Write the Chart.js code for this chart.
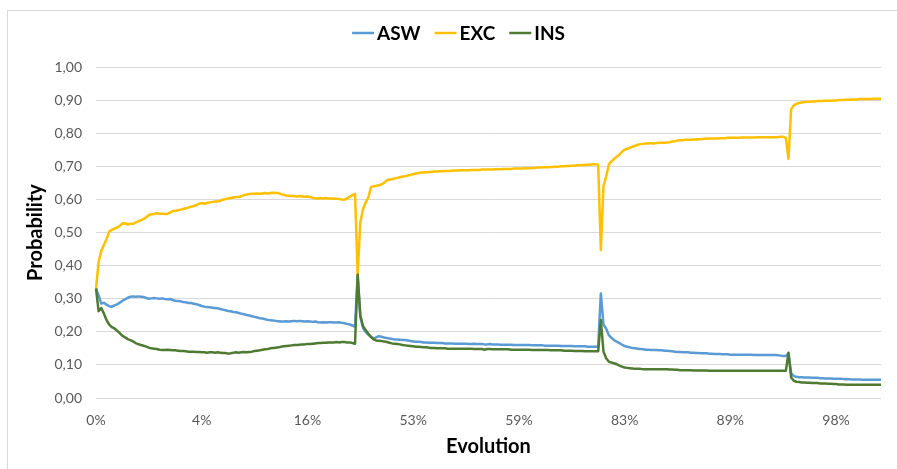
<!DOCTYPE html>
<html>
<head>
<meta charset="utf-8">
<script src="https://cdn.jsdelivr.net/npm/chart.js@4.4.1/dist/chart.umd.min.js"></script>
<style>
  html, body { margin: 0; padding: 0; background: #fff; overflow: hidden; }
  #wrap { position: relative; width: 897px; height: 469px; }
  #frame { position: absolute; left: 7px; top: 10px; width: 900px; height: 470px; border: 1px solid #d9d9d9; box-sizing: border-box; }
  canvas { position: absolute; left: 0; top: 0; }
</style>
</head>
<body>
<div id="wrap"><div id="frame"></div><canvas id="c" width="897" height="469"></canvas></div>
<script>
// Tick labels shown on the category axis (one every 40 categories)
const tickLabels = ['0%', '4%', '16%', '53%', '59%', '83%', '89%', '98%'];
const tickEvery = 40;
const seriesNames = ['ASW', 'EXC', 'INS'];

const ASW = [
  0.331,0.310,0.285,0.288,0.282,0.277,0.276,0.280,0.283,0.288,
  0.294,0.298,0.303,0.306,0.307,0.306,0.307,0.306,0.305,0.302,
  0.300,0.301,0.302,0.301,0.300,0.301,0.299,0.298,0.299,0.296,
  0.294,0.293,0.292,0.290,0.289,0.287,0.287,0.285,0.283,0.281,
  0.278,0.276,0.275,0.274,0.273,0.272,0.271,0.269,0.267,0.265,
  0.263,0.262,0.260,0.259,0.257,0.255,0.253,0.251,0.249,0.247,
  0.245,0.243,0.241,0.240,0.238,0.236,0.235,0.234,0.233,0.232,
  0.231,0.231,0.232,0.231,0.232,0.233,0.232,0.233,0.232,0.231,
  0.232,0.231,0.230,0.231,0.229,0.228,0.229,0.228,0.229,0.229,
  0.228,0.228,0.229,0.227,0.226,0.224,0.222,0.219,0.216,0.370,
  0.245,0.212,0.200,0.191,0.185,0.180,0.183,0.187,0.185,0.183,
  0.181,0.180,0.178,0.177,0.177,0.176,0.175,0.175,0.174,0.172,
  0.171,0.170,0.170,0.169,0.168,0.168,0.167,0.167,0.167,0.166,
  0.166,0.166,0.165,0.165,0.165,0.165,0.164,0.164,0.164,0.164,
  0.164,0.163,0.163,0.164,0.163,0.163,0.163,0.162,0.162,0.163,
  0.162,0.162,0.162,0.161,0.161,0.161,0.161,0.161,0.160,0.160,
  0.160,0.160,0.160,0.160,0.160,0.159,0.159,0.159,0.159,0.159,
  0.158,0.158,0.158,0.158,0.158,0.158,0.157,0.157,0.157,0.157,
  0.157,0.156,0.156,0.156,0.156,0.156,0.155,0.155,0.155,0.155,
  0.155,0.316,0.222,0.210,0.190,0.182,0.175,0.170,0.166,0.161,
  0.157,0.155,0.153,0.151,0.150,0.149,0.148,0.147,0.146,0.146,
  0.145,0.145,0.145,0.144,0.144,0.143,0.143,0.142,0.141,0.140,
  0.139,0.139,0.138,0.138,0.138,0.137,0.137,0.136,0.136,0.135,
  0.135,0.135,0.134,0.134,0.133,0.133,0.133,0.132,0.132,0.132,
  0.131,0.131,0.131,0.131,0.131,0.131,0.131,0.131,0.131,0.130,
  0.130,0.130,0.130,0.130,0.130,0.130,0.130,0.130,0.129,0.128,
  0.127,0.127,0.135,0.075,0.066,0.064,0.063,0.063,0.062,0.062,
  0.062,0.061,0.061,0.061,0.060,0.060,0.059,0.059,0.059,0.058,
  0.058,0.058,0.058,0.057,0.057,0.057,0.056,0.056,0.056,0.056,
  0.055,0.055,0.055,0.055,0.055,0.055,0.055,0.055
];

const EXC = [
  0.331,0.410,0.445,0.462,0.480,0.503,0.508,0.512,0.515,0.520,
  0.527,0.528,0.524,0.527,0.526,0.530,0.534,0.537,0.541,0.546,
  0.553,0.555,0.556,0.558,0.557,0.557,0.556,0.556,0.560,0.565,
  0.565,0.567,0.569,0.571,0.573,0.576,0.578,0.580,0.583,0.587,
  0.589,0.587,0.589,0.591,0.592,0.594,0.594,0.596,0.599,0.601,
  0.603,0.604,0.606,0.607,0.607,0.610,0.613,0.615,0.616,0.617,
  0.617,0.618,0.617,0.618,0.619,0.618,0.619,0.620,0.619,0.619,
  0.616,0.614,0.612,0.611,0.610,0.610,0.609,0.610,0.609,0.608,
  0.609,0.607,0.605,0.603,0.603,0.604,0.603,0.604,0.603,0.603,
  0.602,0.602,0.601,0.600,0.599,0.603,0.608,0.613,0.617,0.372,
  0.530,0.570,0.590,0.605,0.636,0.640,0.641,0.643,0.645,0.650,
  0.657,0.660,0.661,0.663,0.665,0.667,0.669,0.670,0.672,0.674,
  0.676,0.678,0.680,0.681,0.681,0.682,0.683,0.683,0.684,0.684,
  0.685,0.685,0.686,0.686,0.686,0.687,0.687,0.687,0.688,0.688,
  0.688,0.688,0.689,0.689,0.689,0.689,0.690,0.690,0.690,0.690,
  0.690,0.691,0.691,0.691,0.692,0.692,0.692,0.692,0.693,0.693,
  0.693,0.693,0.694,0.694,0.694,0.695,0.695,0.696,0.696,0.697,
  0.697,0.697,0.698,0.698,0.699,0.699,0.700,0.700,0.701,0.701,
  0.702,0.702,0.703,0.703,0.704,0.704,0.705,0.705,0.706,0.706,
  0.705,0.447,0.640,0.668,0.705,0.715,0.722,0.729,0.735,0.744,
  0.750,0.753,0.756,0.759,0.762,0.765,0.767,0.768,0.769,0.769,
  0.770,0.769,0.770,0.771,0.771,0.771,0.772,0.773,0.775,0.776,
  0.778,0.779,0.779,0.780,0.780,0.780,0.781,0.781,0.782,0.782,
  0.783,0.783,0.784,0.784,0.784,0.784,0.785,0.785,0.785,0.786,
  0.786,0.786,0.786,0.786,0.787,0.787,0.787,0.787,0.787,0.787,
  0.788,0.788,0.788,0.788,0.788,0.788,0.788,0.788,0.788,0.789,
  0.789,0.786,0.722,0.872,0.884,0.889,0.891,0.893,0.894,0.895,
  0.895,0.896,0.896,0.897,0.897,0.897,0.898,0.898,0.898,0.899,
  0.899,0.900,0.900,0.900,0.901,0.901,0.902,0.902,0.902,0.903,
  0.903,0.903,0.903,0.903,0.904,0.904,0.904,0.904
];

const INS = [
  0.331,0.262,0.272,0.255,0.235,0.222,0.214,0.210,0.203,0.196,
  0.188,0.183,0.178,0.175,0.171,0.166,0.163,0.160,0.158,0.155,
  0.152,0.150,0.149,0.148,0.146,0.145,0.145,0.146,0.145,0.144,
  0.144,0.143,0.142,0.142,0.141,0.140,0.140,0.140,0.139,0.139,
  0.138,0.138,0.137,0.138,0.138,0.137,0.138,0.137,0.136,0.136,
  0.134,0.135,0.137,0.138,0.137,0.138,0.139,0.138,0.139,0.140,
  0.142,0.143,0.144,0.146,0.147,0.148,0.150,0.151,0.152,0.153,
  0.155,0.156,0.157,0.158,0.159,0.160,0.160,0.161,0.162,0.162,
  0.163,0.163,0.164,0.165,0.166,0.166,0.167,0.167,0.168,0.168,
  0.168,0.169,0.168,0.169,0.169,0.168,0.168,0.166,0.164,0.372,
  0.250,0.218,0.205,0.195,0.185,0.177,0.174,0.173,0.172,0.171,
  0.169,0.167,0.165,0.164,0.163,0.162,0.160,0.159,0.158,0.157,
  0.156,0.155,0.155,0.154,0.153,0.153,0.152,0.151,0.151,0.150,
  0.150,0.150,0.150,0.149,0.149,0.149,0.149,0.149,0.149,0.149,
  0.149,0.149,0.149,0.148,0.148,0.148,0.148,0.146,0.148,0.148,
  0.147,0.147,0.147,0.147,0.147,0.147,0.147,0.146,0.146,0.146,
  0.146,0.146,0.146,0.146,0.146,0.145,0.145,0.145,0.145,0.145,
  0.145,0.145,0.144,0.144,0.144,0.144,0.144,0.143,0.143,0.143,
  0.143,0.142,0.142,0.142,0.142,0.141,0.141,0.141,0.141,0.141,
  0.141,0.236,0.140,0.120,0.110,0.107,0.105,0.102,0.098,0.095,
  0.092,0.091,0.090,0.089,0.088,0.088,0.088,0.087,0.087,0.087,
  0.087,0.087,0.087,0.087,0.087,0.087,0.087,0.086,0.086,0.085,
  0.085,0.084,0.084,0.084,0.084,0.084,0.083,0.083,0.083,0.083,
  0.083,0.083,0.082,0.082,0.082,0.082,0.082,0.082,0.082,0.082,
  0.082,0.082,0.082,0.082,0.082,0.082,0.082,0.082,0.082,0.082,
  0.082,0.082,0.082,0.082,0.082,0.082,0.082,0.082,0.082,0.082,
  0.082,0.082,0.137,0.062,0.052,0.049,0.048,0.047,0.047,0.046,
  0.046,0.045,0.045,0.045,0.044,0.044,0.044,0.043,0.043,0.042,
  0.042,0.041,0.041,0.041,0.040,0.040,0.040,0.040,0.040,0.040,
  0.040,0.040,0.040,0.040,0.040,0.040,0.040,0.040
];

const categories = ASW.map((_, i) => (i % tickEvery === 0 ? tickLabels[i / tickEvery] : ''));

const FONT = 'Lato, "Open Sans", sans-serif';

const xlLegend = {
  id: 'xlLegend',
  afterDraw(chart) {
    const ctx = chart.ctx;
    ctx.save();
    ctx.font = 'bold 19px ' + FONT;
    const items = chart.data.datasets.map(d => ({ t: d.label, c: d.borderColor, w: ctx.measureText(d.label).width }));
    const lineW = 22, gap = 3, sep = 14;
    const total = items.reduce((s, it) => s + lineW + gap + it.w, 0) + sep * (items.length - 1);
    let x = 458.5 - total / 2;
    const y = 33;
    items.forEach(it => {
      ctx.strokeStyle = it.c;
      ctx.lineWidth = 2.5;
      ctx.beginPath();
      ctx.moveTo(x, y);
      ctx.lineTo(x + lineW, y);
      ctx.stroke();
      x += lineW + gap;
      ctx.fillStyle = '#000';
      ctx.textBaseline = 'middle';
      ctx.textAlign = 'left';
      ctx.fillText(it.t, x, y + 1);
      x += it.w + sep;
    });
    ctx.restore();
  }
};

new Chart(document.getElementById('c'), {
  type: 'line',
  data: {
    labels: categories,
    datasets: [
      { label: seriesNames[0], data: ASW, borderColor: '#5B9BD5', order: 1 },
      { label: seriesNames[1], data: EXC, borderColor: '#FFC000', order: 2 },
      { label: seriesNames[2], data: INS, borderColor: '#4F7A32', order: 0 }
    ]
  },
  options: {
    responsive: false,
    animation: false,
    events: [],
    layout: { padding: { top: 67, right: 16, left: 0, bottom: 0 } },
    elements: {
      line: { borderWidth: 2.5, tension: 0, fill: false, borderJoinStyle: 'round' },
      point: { radius: 0 }
    },
    plugins: {
      legend: { display: false },
      tooltip: { enabled: false }
    },
    scales: {
      x: {
        type: 'category',
        offset: false,
        grid: { display: false, drawTicks: false },
        border: { display: false },
        ticks: {
          autoSkip: false,
          maxRotation: 0,
          padding: 14,
          color: '#595959',
          font: { family: FONT, size: 14 },
          callback: (v, i) => (i % tickEvery === 0 ? tickLabels[i / tickEvery] : null)
        },
        title: {
          display: true,
          text: 'Evolution',
          color: '#000',
          font: { family: FONT, size: 20, weight: 'bold' },
          padding: { top: 0, bottom: 10 }
        },
        afterFit: s => { s.height = 71; }
      },
      y: {
        min: 0,
        max: 1,
        grid: { color: '#d9d9d9', lineWidth: 1, drawTicks: false },
        border: { display: false },
        ticks: {
          stepSize: 0.1,
          padding: 14,
          color: '#595959',
          font: { family: FONT, size: 14 },
          callback: v => v.toFixed(2).replace('.', ',')
        },
        title: {
          display: true,
          text: 'Probability',
          color: '#000',
          font: { family: FONT, size: 20, weight: 'bold' },
          padding: { top: 24, bottom: 0 }
        },
        afterFit: s => { s.width = 96; }
      }
    }
  },
  plugins: [xlLegend]
});
</script>
</body>
</html>
